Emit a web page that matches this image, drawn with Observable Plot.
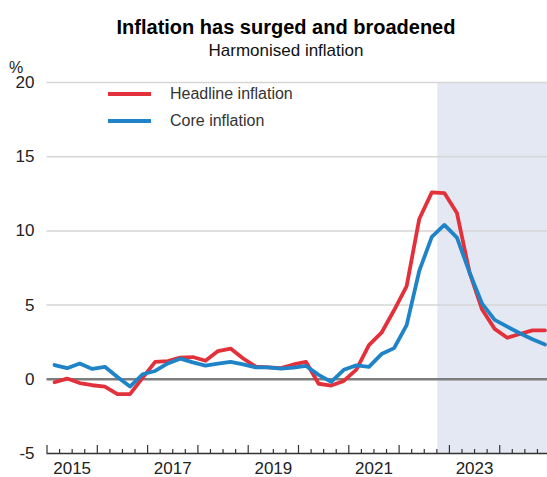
<!DOCTYPE html>
<html>
<head>
<meta charset="utf-8">
<script src="https://cdn.jsdelivr.net/npm/d3@7"></script>
<script src="https://cdn.jsdelivr.net/npm/@observablehq/plot@0.6"></script>
<style>
  html, body { margin: 0; padding: 0; background: #fff; }
  body { font-family: "Liberation Sans", Arial, sans-serif; }
  #wrap { position: relative; width: 547px; height: 477px; overflow: hidden; }
  #chart { position: absolute; left: 0; top: 0; }
  .title { position: absolute; left: 0; width: 572px; text-align: center; top: 15.5px;
           font-size: 20px; font-weight: bold; color: #000; line-height: 22px; white-space: nowrap; }
  .subtitle { position: absolute; left: 0; width: 572px; text-align: center; top: 41px;
              font-size: 17px; color: #111; line-height: 20px; white-space: nowrap; }
  .unit { position: absolute; left: 9px; top: 58.5px; font-size: 16px; color: #222; line-height: 18px; }
  .legend { position: absolute; left: 108px; top: 80.5px; font-size: 16px; color: #333; }
  .legend .row { display: flex; align-items: center; height: 27px; white-space: nowrap; }
  .legend .swatch { width: 43px; height: 4px; margin-right: 19px; }
</style>
</head>
<body>
<div id="wrap">
  <div id="chart"></div>
  <div class="title">Inflation has surged and broadened</div>
  <div class="subtitle">Harmonised inflation</div>
  <div class="unit">%</div>
  <div class="legend" id="legend"></div>
</div>
<script>
// Quarterly observation dates (decimal years)
const quarters = d3.range(40).map(i => 2015.15 + i * 0.25);

// Headline and core harmonised inflation, % y-o-y
const headline = [
  -0.2, 0.05, -0.25, -0.4, -0.49, -1.0, -1.0, 0.1,
  1.17, 1.23, 1.46, 1.5, 1.25, 1.9, 2.07, 1.4,
  0.85, 0.8, 0.75, 1.0, 1.17, -0.3, -0.42, -0.11,
  0.65, 2.3, 3.14, 4.65, 6.28, 10.8, 12.6, 12.55,
  11.2, 7.2, 4.7, 3.4, 2.8, 3.05, 3.3, 3.3
];
const core = [
  0.96, 0.75, 1.06, 0.7, 0.84, 0.15, -0.49, 0.34,
  0.56, 1.07, 1.39, 1.14, 0.92, 1.05, 1.18, 1.0,
  0.8, 0.8, 0.72, 0.79, 0.9, 0.3, -0.17, 0.64,
  0.94, 0.84, 1.7, 2.1, 3.65, 7.3, 9.6, 10.4,
  9.55, 7.2, 5.1, 4.0, 3.55, 3.1, 2.7, 2.35
];

const seriesNames = ["Headline inflation", "Core inflation"];
const seriesColors = ["#e3313b", "#1f83c7"];
const yTicks = [-5, 0, 5, 10, 15, 20];
const gridValues = [5, 10, 15, 20];
const yearLabels = [2015, 2017, 2019, 2021, 2023];
const xStart = 2015, xEnd = 2024.95;
const projectionStart = 2022.77;

const rows = [
  ...quarters.map((x, i) => ({x, value: headline[i], series: seriesNames[0]})),
  ...quarters.map((x, i) => ({x, value: core[i], series: seriesNames[1]}))
];

const W = 547, H = 477, mt = 82, mb = 24, ml = 46.5, mr = 0;
const frameH = H - mt - mb;
const yearTicks = d3.range(2015, 2025);
const quarterTicks = d3.range(2015, 2025).flatMap(y => [y + 0.25, y + 0.5, y + 0.75]);

const chart = Plot.plot({
  width: W, height: H,
  marginTop: mt, marginBottom: mb, marginLeft: ml, marginRight: mr,
  style: {fontFamily: "'Liberation Sans', Arial, sans-serif", fontSize: "17px", color: "#222", background: "transparent", overflow: "visible"},
  x: {domain: [xStart, xEnd]},
  y: {domain: [-5, 20]},
  color: {domain: seriesNames, range: seriesColors},
  marks: [
    // projection period
    Plot.rect([{x1: projectionStart, x2: xEnd, y1: -5, y2: 20}], {x1: "x1", x2: "x2", y1: "y1", y2: "y2", fill: "#e3e8f2"}),
    Plot.ruleY(gridValues, {stroke: "#d6d6d6", strokeWidth: 1.5}),
    Plot.ruleY([0], {stroke: "#7d7d7d", strokeWidth: 2.6}),
    Plot.line(rows, {x: "x", y: "value", z: "series", stroke: "series", strokeWidth: 3.8}),
    // bottom axis line with inward year / quarter ticks
    Plot.ruleY([-5], {stroke: "#333", strokeWidth: 1.3}),
    Plot.ruleX(quarterTicks, {insetTop: frameH - 4, stroke: "#333", strokeWidth: 1.2}),
    Plot.ruleX(yearTicks, {insetTop: frameH - 8, stroke: "#333", strokeWidth: 1.2}),
    Plot.axisY(yTicks, {tickSize: 0, tickPadding: 12.5, fontSize: 17, tickFormat: d => String(d)}),
    Plot.axisX(yearLabels.map(y => y + 0.5), {tickSize: 0, tickPadding: 8.5, fontSize: 17, tickFormat: d => String(d - 0.5)})
  ]
});
document.getElementById("chart").appendChild(chart);

// legend
const legend = document.getElementById("legend");
seriesNames.forEach((name, i) => {
  const row = document.createElement("div");
  row.className = "row";
  const sw = document.createElement("span");
  sw.className = "swatch";
  sw.style.background = seriesColors[i];
  const lab = document.createElement("span");
  lab.textContent = name;
  row.appendChild(sw);
  row.appendChild(lab);
  legend.appendChild(row);
});
</script>
</body>
</html>
